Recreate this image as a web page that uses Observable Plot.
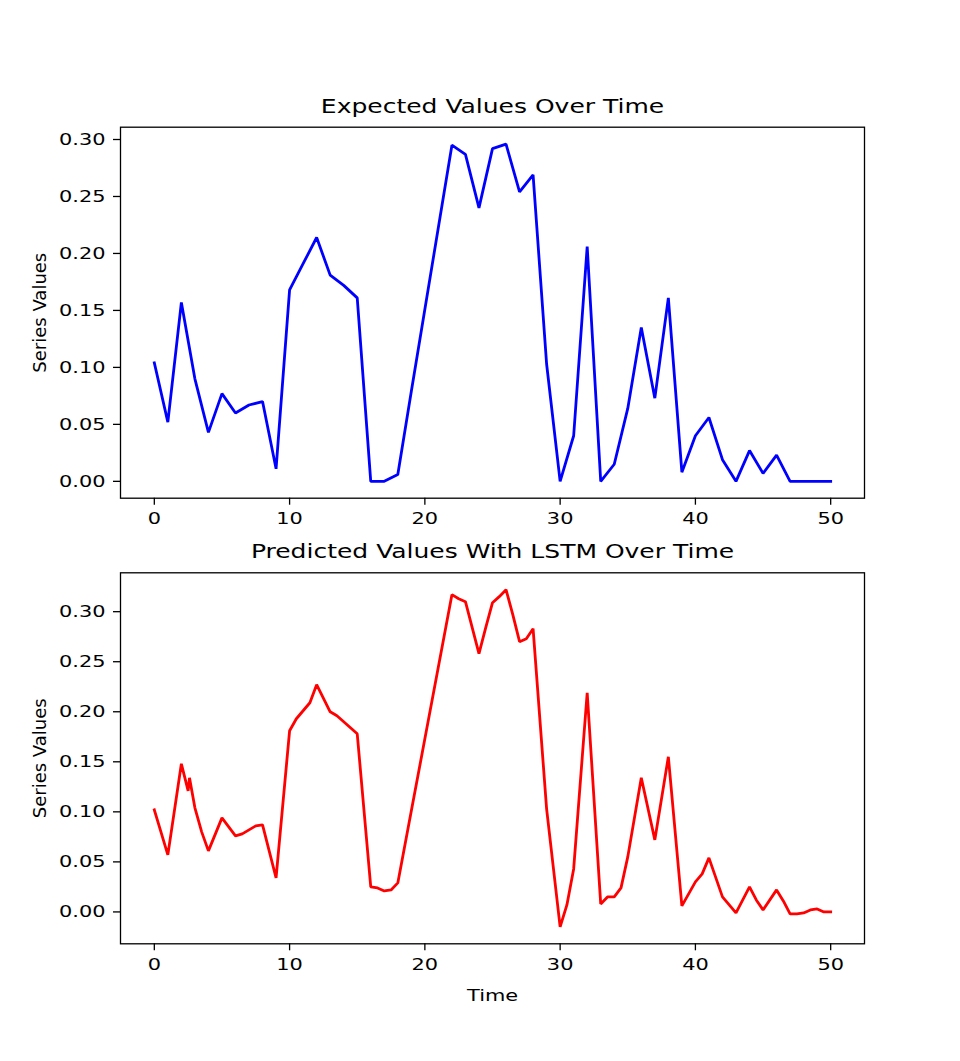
<!DOCTYPE html>
<html>
<head>
<meta charset="utf-8">
<script src="https://cdn.jsdelivr.net/npm/d3@7"></script>
<script src="https://cdn.jsdelivr.net/npm/@observablehq/plot@0.6"></script>
<style>
  html, body { margin: 0; padding: 0; background: #ffffff; }
  #chart { position: relative; width: 960px; height: 1061px; background: #ffffff; }
  #chart svg { position: absolute; left: 0; overflow: visible; }
</style>
</head>
<body>
<div id="chart"></div>
<script>
// Expected series: one value per time step
const expectedTime = [0, 1, 2, 3, 4, 5, 6, 7, 8, 9, 10, 11, 12, 13, 14, 15, 16, 17, 18, 19, 20,
  21, 22, 23, 24, 25, 26, 27, 28, 29, 30, 31, 32, 33, 34, 35, 36, 37, 38, 39, 40,
  41, 42, 43, 44, 45, 46, 47, 48, 49, 50];
const expectedValues = [0.104, 0.052, 0.157, 0.090, 0.043, 0.077, 0.060, 0.067, 0.070, 0.011,
  0.168, 0.191, 0.214, 0.181, 0.172, 0.161, 0.000, 0.000, 0.006, 0.079,
  0.151, 0.223, 0.295, 0.287, 0.240, 0.292, 0.296, 0.254, 0.269, 0.103,
  0.000, 0.040, 0.206, 0.000, 0.015, 0.064, 0.135, 0.073, 0.161, 0.008,
  0.040, 0.056, 0.019, 0.000, 0.027, 0.007, 0.023, 0.000, 0.000, 0.000, 0.000];

// LSTM predictions, sampled more finely in time
const predictedTime = [0, 1, 2, 2.5, 2.6, 3, 3.5, 4, 5, 6, 6.5, 7, 7.5, 8, 9, 10, 10.5, 11, 11.5, 12,
  13, 13.5, 14, 14.5, 15, 16, 16.5, 17, 17.5, 18, 19, 20, 21, 22, 22.5, 23, 24, 24.5, 25, 25.5,
  26, 26.5, 27, 27.5, 28, 29, 30, 30.5, 31, 32, 33, 33.5, 34, 34.5, 35, 36, 37, 38, 39, 40,
  40.5, 41, 42, 42.5, 43, 44, 44.5, 45, 46, 46.5, 47, 47.5, 48, 48.5, 49, 49.5, 50];
const predictedValues = [0.102, 0.057, 0.148, 0.121, 0.134, 0.104, 0.080, 0.061, 0.094, 0.076,
  0.078, 0.082, 0.086, 0.087, 0.034, 0.181, 0.193, 0.201, 0.209, 0.227,
  0.200, 0.196, 0.190, 0.184, 0.178, 0.025, 0.024, 0.021, 0.022, 0.029,
  0.101, 0.173, 0.245, 0.317, 0.313, 0.310, 0.258, 0.284, 0.309, 0.315,
  0.322, 0.297, 0.270, 0.273, 0.283, 0.103, -0.015, 0.007, 0.043, 0.219,
  0.008, 0.015, 0.015, 0.024, 0.055, 0.134, 0.072, 0.155, 0.006, 0.030,
  0.038, 0.054, 0.015, 0.007, -0.001, 0.025, 0.012, 0.002, 0.022, 0.011,
  -0.002, -0.002, -0.001, 0.002, 0.003, 0.000, 0.000];

// Axis ticks and labels
const xTicks = [0, 10, 20, 30, 40, 50];
const yTicks = [0.00, 0.05, 0.10, 0.15, 0.20, 0.25, 0.30];
const topTitle = "Expected Values Over Time";
const bottomTitle = "Predicted Values With LSTM Over Time";
const yLabel = "Series Values";
const xLabel = "Time";

const FONT = "DejaVu Sans";
const TICK_SIZE = 16.7;
const YLABEL_SIZE = 18;
const TITLE_SIZE = 20;
const TEXT_STRETCH = 1.25; // horizontal labels are drawn wider than their natural shape

// 5% padding on each side of the data range
function padded(extent) {
  const span = extent[1] - extent[0];
  return [extent[0] - span * 0.05, extent[1] + span * 0.05];
}

function panel({time, values, color, title, height, marginTop, marginBottom, showXLabel}) {
  const data = time.map((t, i) => ({t, v: values[i]}));
  const marks = [
    Plot.frame({stroke: "black", strokeWidth: 1.3}),
    Plot.axisX({ticks: xTicks, tickFormat: d => String(d), tickSize: 7, tickPadding: 7,
      strokeWidth: 1.3, label: null, fontSize: TICK_SIZE}),
    Plot.axisY({ticks: yTicks, tickFormat: d3.format(".2f"), tickSize: 7, tickPadding: 8,
      strokeWidth: 1.3, label: null, fontSize: TICK_SIZE}),
    Plot.line(data, {x: "t", y: "v", stroke: color, strokeWidth: 2.8,
      strokeLinejoin: "miter", strokeLinecap: "square"}),
    Plot.text([title], {frameAnchor: "top", dy: -21, lineAnchor: "middle",
      textAnchor: "middle", fontSize: TITLE_SIZE, fill: "black"}),
    Plot.text([yLabel], {frameAnchor: "left", dx: -80, rotate: -90, lineAnchor: "middle",
      textAnchor: "middle", fontSize: YLABEL_SIZE, fill: "black"})
  ];
  if (showXLabel) {
    marks.push(Plot.text([xLabel], {frameAnchor: "bottom", dy: 52, lineAnchor: "middle",
      textAnchor: "middle", fontSize: TICK_SIZE, fill: "black"}));
  }
  return Plot.plot({
    width: 960,
    height,
    marginLeft: 120,
    marginRight: 96,
    marginTop,
    marginBottom,
    x: {domain: padded([0, 50])},
    y: {domain: padded(d3.extent(values))},
    style: {fontFamily: FONT, fontSize: TICK_SIZE + "px", color: "black",
      background: "transparent", overflow: "visible"},
    marks
  });
}

// Widen each horizontal label about its own anchor point
function stretchText(svg, factor) {
  svg.querySelectorAll("text").forEach(el => {
    const prev = el.getAttribute("transform") || "";
    if (prev.includes("rotate")) return;
    const box = el.getBoundingClientRect();
    const anchor = getComputedStyle(el).textAnchor;
    let sx = box.left + box.width / 2;
    if (anchor === "end") sx = box.right;
    else if (anchor === "start") sx = box.left;
    const cx = sx - el.parentNode.getScreenCTM().e;
    el.setAttribute("transform",
      `translate(${cx},0) scale(${factor},1) translate(${-cx},0) ${prev}`);
  });
}

const root = document.getElementById("chart");

const upperPanel = panel({time: expectedTime, values: expectedValues, color: "#0000ff",
  title: topTitle, height: 535, marginTop: 126.7, marginBottom: 37.3, showXLabel: false});
upperPanel.style.top = "0px";
root.appendChild(upperPanel);

const lowerPanel = panel({time: predictedTime, values: predictedValues, color: "#ff0000",
  title: bottomTitle, height: 526, marginTop: 37.3, marginBottom: 117.7, showXLabel: true});
lowerPanel.style.top = "535px";
root.appendChild(lowerPanel);

stretchText(upperPanel, TEXT_STRETCH);
stretchText(lowerPanel, TEXT_STRETCH);
</script>
</body>
</html>
